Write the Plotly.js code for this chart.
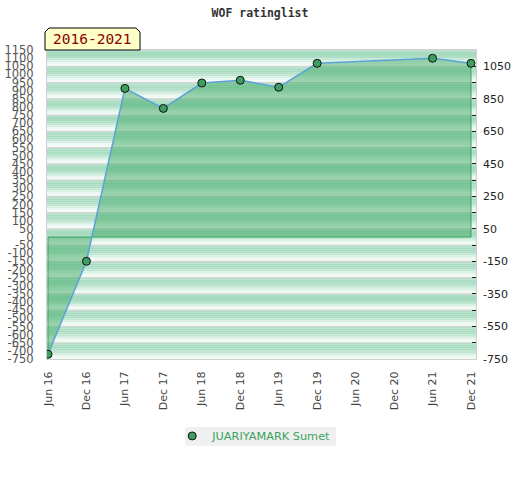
<!DOCTYPE html>
<html>
<head>
<meta charset="utf-8">
<script src="https://cdn.plot.ly/plotly-3.0.1.min.js"></script>
<style>html,body{margin:0;padding:0;background:#fff;}#chart{width:520px;height:480px;}</style>
</head>
<body>
<div id="chart"></div>
<script>
// Data
const periods = ["Jun 16","Dec 16","Jun 17","Dec 17","Jun 18","Dec 18","Jun 19","Dec 19","Jun 20","Dec 20","Jun 21","Dec 21"];
const ratings = [-721, -149, 914, 791, 947, 964, 921, 1068, null, null, 1099, 1068];
const playerName = "JUARIYAMARK Sumet";
const chartTitle = "<b>WOF ratinglist</b>";
const periodLabel = "2016-2021";
const leftTicks = [];
for (let v = -750; v <= 1150; v += 50) leftTicks.push(v);
const rightTicks = [];
for (let v = -750; v <= 1150; v += 100) rightTicks.push(v);
const rightTickText = rightTicks.map(v => (((v + 750) / 100) % 2 === 0) ? String(v) : "");

// Background stripe shapes (style)
const shapes = [];
function mix(a, b, t) {
  const pa = [parseInt(a.slice(1,3),16),parseInt(a.slice(3,5),16),parseInt(a.slice(5,7),16)];
  const pb = [parseInt(b.slice(1,3),16),parseInt(b.slice(3,5),16),parseInt(b.slice(5,7),16)];
  return 'rgb(' + pa.map((x,i)=>Math.round(x+(pb[i]-x)*t)).join(',') + ')';
}
const nSub = 8;
const curve = [0.15, 0.0, 0.0, 0.1, 0.35, 0.65, 0.9, 1.0];
for (let top = 1150; top > -750; top -= 100) {
  const h = 100 / nSub;
  for (let s = 0; s < nSub; s++) {
    shapes.push({type:'rect', layer:'below', xref:'paper', yref:'y', x0:0, x1:1,
      y0: top - (s+1)*h, y1: top - s*h, line:{width:0},
      fillcolor: mix('#a6dbc0', '#f3faf6', curve[s])});
  }
  shapes.push({type:'line', layer:'below', xref:'paper', yref:'y', x0:0, x1:1, y0:top, y1:top,
    line:{color:'#d4d6d5', width:1.2}});
}
// Label tab with chamfered top corners
const W = 429, H = 309;
const px = v => v / W, py = v => v / H;
const lx0 = px(-2), lx1 = px(93), ly0 = 1, ly1 = 1 + py(22), c = 4;
shapes.push({type:'path', xref:'paper', yref:'paper', layer:'above',
  path: `M ${lx0} ${ly0} L ${lx0} ${ly1 - py(c)} L ${lx0 + px(c)} ${ly1} L ${lx1 - px(c)} ${ly1} L ${lx1} ${ly1 - py(c)} L ${lx1} ${ly0} Z`,
  fillcolor:'#ffffc8', line:{color:'#000', width:1}});
// legend background
shapes.push({type:'rect', xref:'paper', yref:'paper', layer:'above',
  x0: px(185-47), x1: px(336-47), y0: py(359-446), y1: py(359-427),
  fillcolor:'#f0f0f0', line:{width:0}});

const last = periods.length - 1;
const traces = [
  { // fill area
    x: periods, y: ratings, type:'scatter', mode:'lines', fill:'tozeroy', connectgaps:true,
    fillcolor:'rgba(67,172,103,0.5)', line:{color:'rgba(0,0,0,0)', width:0},
    showlegend:false, hoverinfo:'skip'
  },
  { // fill outline
    x: [periods[0], periods[0], periods[last], periods[last]],
    y: [ratings[0], 0, 0, ratings[last]],
    type:'scatter', mode:'lines', line:{color:'#3aa35f', width:1},
    showlegend:false, hoverinfo:'skip'
  },
  { // rating line
    x: periods, y: ratings, type:'scatter', mode:'lines', connectgaps:true,
    line:{color:'#5aa2d8', width:1.5}, showlegend:false
  },
  { // points
    x: periods, y: ratings, type:'scatter', mode:'markers', name: playerName,
    marker:{size:8, color:'#3d9e5f', line:{color:'#111', width:1}}
  },
  { // right axis carrier
    x: [periods[0]], y: [null], yaxis:'y2', type:'scatter', mode:'markers', showlegend:false, hoverinfo:'skip'
  }
];

const layout = {
  width:520, height:480,
  margin:{l:47, r:44, t:50, b:121, pad:0},
  paper_bgcolor:'#fff', plot_bgcolor:'#fff',
  title:{text: chartTitle, x:0.5, xanchor:'center', y:0.972, yanchor:'middle',
    font:{family:'DejaVu Sans Mono', size:11.5, color:'#333'}},
  xaxis:{type:'category', categoryorder:'array', categoryarray: periods,
    range:[-0.026, 11.13], tickangle:-90, showgrid:false, zeroline:false,
    showline:true, mirror:true, linecolor:'#d0d0d0', linewidth:1,
    ticks:'outside', ticklen:7, tickcolor:'rgba(0,0,0,0)',
    tickfont:{family:'DejaVu Sans', size:11, color:'#444'}},
  yaxis:{range:[-750, 1150], tickvals:leftTicks, ticktext:leftTicks.map(String),
    showgrid:false, zeroline:false, showline:true, mirror:true, linecolor:'#d0d0d0', linewidth:1,
    ticks:'outside', ticklen:10, tickcolor:'rgba(0,0,0,0)',
    tickfont:{family:'DejaVu Sans', size:11.5, color:'#555'}},
  yaxis2:{range:[-750, 1150], overlaying:'y', side:'right', tickvals:rightTicks, ticktext:rightTickText,
    showgrid:false, zeroline:false, ticks:'inside', ticklen:4, tickcolor:'#222', tickwidth:1,
    ticklabelstandoff:6,
    tickfont:{family:'DejaVu Sans', size:11, color:'#222'}},
  legend:{orientation:'h', x:0.483, xanchor:'center', y:-0.249, yanchor:'middle',
    bgcolor:'rgba(0,0,0,0)', font:{family:'DejaVu Sans', size:11.3, color:'#3aa35f'}, itemwidth:30},
  shapes: shapes,
  annotations:[{xref:'paper', yref:'paper', x:(lx0+lx1)/2, y:(ly0+ly1)/2, text: periodLabel,
    showarrow:false, xanchor:'center', yanchor:'middle',
    font:{family:'DejaVu Sans Mono', size:14.5, color:'#8b0000'}}]
};
Plotly.newPlot('chart', traces, layout, {displayModeBar:false, staticPlot:true});
</script>
</body>
</html>
